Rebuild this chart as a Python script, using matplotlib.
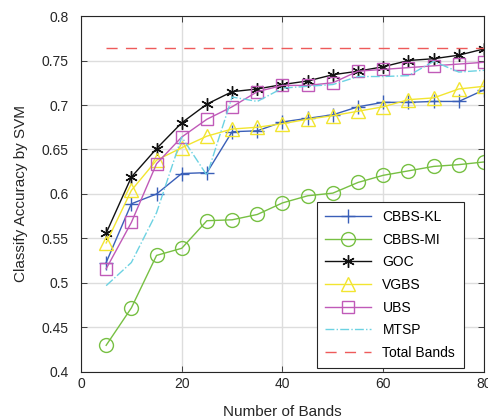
import numpy as np
import matplotlib.pyplot as plt

plt.rcParams['font.family'] = ['Liberation Sans', 'DejaVu Sans']

bands = [5, 10, 15, 20, 25, 30, 35, 40, 45, 50, 55, 60, 65, 70, 75, 80]

cbbs_kl = [0.523, 0.589, 0.600, 0.623, 0.624, 0.670, 0.671, 0.681, 0.685, 0.689,
           0.698, 0.703, 0.703, 0.704, 0.704, 0.717]
cbbs_mi = [0.430, 0.472, 0.531, 0.539, 0.570, 0.571, 0.577, 0.590, 0.598, 0.601,
           0.613, 0.621, 0.626, 0.631, 0.633, 0.636]
goc = [0.556, 0.619, 0.651, 0.680, 0.701, 0.715, 0.718, 0.723, 0.727, 0.734,
       0.738, 0.743, 0.750, 0.752, 0.756, 0.763]
vgbs = [0.545, 0.604, 0.638, 0.652, 0.665, 0.673, 0.675, 0.679, 0.684, 0.688,
        0.693, 0.698, 0.706, 0.708, 0.718, 0.721]
ubs = [0.516, 0.568, 0.634, 0.664, 0.684, 0.698, 0.715, 0.722, 0.722, 0.725,
       0.738, 0.740, 0.742, 0.744, 0.746, 0.748]
mtsp = [0.497, 0.523, 0.579, 0.664, 0.621, 0.709, 0.704, 0.719, 0.721, 0.723,
        0.732, 0.732, 0.733, 0.749, 0.737, 0.739]
total_bands = 0.764

fig = plt.figure(figsize=(4.89, 4.20), dpi=100)
ax = fig.add_axes([0.1656, 0.1143, 0.8242, 0.8476])

ax.plot(bands, cbbs_kl, color='#3a5fb8', lw=1, marker='+', ms=10, mew=1, label='CBBS-KL')
ax.plot(bands, cbbs_mi, color='#77c043', lw=1, marker='o', ms=10, mfc='none', mew=1, label='CBBS-MI')
ax.plot(bands, goc, color='#111111', lw=1, marker=(6, 2, 0), ms=9, mew=1, label='GOC')
ax.plot(bands, vgbs, color='#f2e530', lw=1, marker='^', ms=10, mfc='none', mew=1, label='VGBS')
ax.plot(bands, ubs, color='#c05ab8', lw=1, marker='s', ms=8, mfc='none', mew=1, label='UBS')
ax.plot(bands, mtsp, color='#6cd2e2', lw=1, ls='-.', label='MTSP')
ax.plot([bands[0], bands[-1]], [total_bands, total_bands], color='#ee5a5a', lw=1,
        ls=(0, (8, 6)), label='Total Bands')

ax.set_xlim(0, 80)
ax.set_ylim(0.4, 0.8)
ax.set_xticks([0, 20, 40, 60, 80])
ax.set_yticks(np.arange(0.4, 0.801, 0.05))
ax.set_yticklabels(['0.4', '0.45', '0.5', '0.55', '0.6', '0.65', '0.7', '0.75', '0.8'])
ax.grid(True, color='#dddddd', lw=1)
ax.set_axisbelow(True)
ax.tick_params(direction='in', top=True, right=True, labelsize=10, colors='#262626',
               length=4, width=0.6)
ax.tick_params(axis='y', pad=9)
for s in ax.spines.values():
    s.set_linewidth(0.8)
    s.set_color('#262626')

ax.set_xlabel('Number of Bands', fontsize=11, color='#262626', labelpad=10)
ax.set_ylabel('Classify Accuracy by SVM', fontsize=11, color='#262626', labelpad=10)

leg = ax.legend(loc='lower left', bbox_to_anchor=(0.586, 0.011), borderaxespad=0,
                fontsize=10, fancybox=False, edgecolor='#262626', framealpha=1,
                labelspacing=0.62, handlelength=3.3, borderpad=0.6)
leg.get_frame().set_linewidth(0.8)

fig.savefig('out.png', dpi=100)
